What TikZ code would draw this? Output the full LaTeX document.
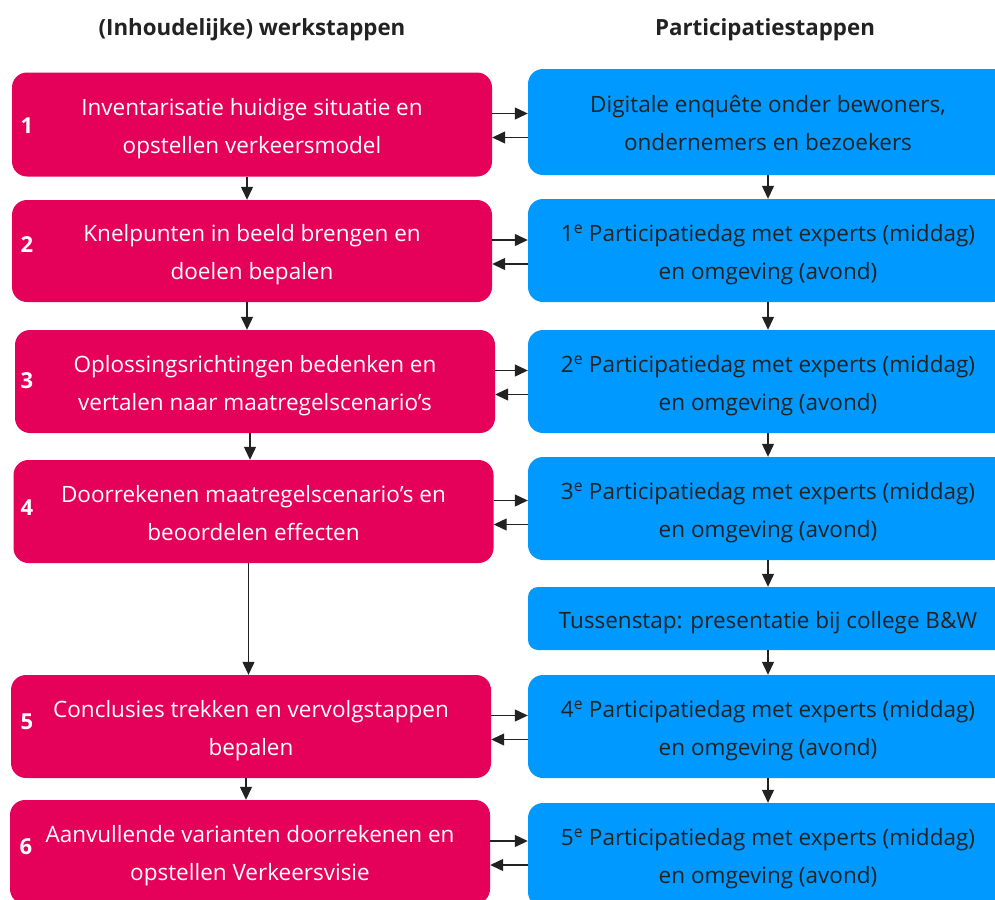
\documentclass[tikz,border=0pt]{standalone}
\usepackage{fontspec}
\setmainfont{Open Sans}
\usetikzlibrary{arrows.meta}
\definecolor{wred}{RGB}{229,0,90}
\definecolor{pblue}{RGB}{0,153,255}
\definecolor{ink}{RGB}{34,34,34}
\newcommand\bxtop{\rule{0pt}{26pt}}
\newcommand\bxbot{\rule[-7pt]{0pt}{0pt}}
\tikzset{
  basebox/.style={rectangle, rounded corners=15pt, minimum width=480pt, inner sep=0pt, align=center, font={\fontsize{22.5pt}{38pt}\selectfont}},
  redbox/.style={basebox, fill=wred, text=white, minimum height=104pt},
  bluebox/.style={basebox, fill=pblue, text=ink, minimum height=104pt},
  numlabel/.style={text=white, font={\fontsize{22pt}{26pt}\selectfont\bfseries}, inner sep=0pt},
  title/.style={text=ink, font={\fontsize{22.3pt}{26pt}\selectfont\bfseries}, inner sep=0pt},
  arr/.style={draw=ink, line width=1.2pt, -{Triangle[length=13pt,width=12pt]}},
}
\begin{document}
\begin{tikzpicture}[x=1pt,y=-1pt]
\clip (0,0) rectangle (995,899);
\fill[white] (0,0) rectangle (995,899);
% titles
\node[title] (t1) at (252,30) {(Inhoudelijke) werkstappen};
\node[title] (t2) at (765,30) {Participatiestappen};
% red boxes
\node[redbox] (r1) at (252,124.5) {\bxtop Inventarisatie huidige situatie en\\opstellen verkeersmodel\bxbot};
\node[redbox, minimum height=102pt] (r2) at (252,251) {\bxtop Knelpunten in beeld brengen en\\doelen bepalen\bxbot};
\node[redbox, minimum height=103pt] (r3) at (255,381.5) {\bxtop Oplossingsrichtingen bedenken en\\vertalen naar maatregelscenario’s\bxbot};
\node[redbox, minimum height=103pt] (r4) at (253.5,511.5) {\bxtop Doorrekenen maatregelscenario’s en\\beoordelen effecten\bxbot};
\node[redbox, minimum height=103pt] (r5) at (251,726.5) {\bxtop Conclusies trekken en vervolgstappen\\bepalen\bxbot};
\node[redbox, minimum height=104pt] (r6) at (250,852) {\bxtop Aanvullende varianten doorrekenen en\\opstellen Verkeersvisie\bxbot};
% numbers
\node[numlabel] (n1) at (27,126) {1};
\node[numlabel] (n2) at (27,245) {2};
\node[numlabel] (n3) at (27,381) {3};
\node[numlabel] (n4) at (27,508) {4};
\node[numlabel] (n5) at (27,722) {5};
\node[numlabel] (n6) at (26,847) {6};
% blue boxes
\node[bluebox, minimum height=106pt] (b1) at (768,122) {\bxtop Digitale enquête onder bewoners,\\ondernemers en bezoekers\bxbot};
\node[bluebox, minimum height=103pt] (b2) at (768,250.5) {\bxtop 1\textsuperscript{e} Participatiedag met experts (middag)\\en omgeving (avond)\bxbot};
\node[bluebox, minimum height=103pt] (b3) at (768,381.5) {\bxtop 2\textsuperscript{e} Participatiedag met experts (middag)\\en omgeving (avond)\bxbot};
\node[bluebox, minimum height=103pt] (b4) at (768,508.5) {\bxtop 3\textsuperscript{e} Participatiedag met experts (middag)\\en omgeving (avond)\bxbot};
\node[bluebox, minimum height=63pt, rounded corners=10pt] (bt) at (768,618.5) {\bxtop Tussenstap: presentatie bij college B\&W\bxbot};
\node[bluebox, minimum height=103pt] (b5) at (768,726.5) {\bxtop 4\textsuperscript{e} Participatiedag met experts (middag)\\en omgeving (avond)\bxbot};
\node[bluebox, minimum height=104pt] (b6) at (768,855) {\bxtop 5\textsuperscript{e} Participatiedag met experts (middag)\\en omgeving (avond)\bxbot};
% vertical arrows red
\foreach \a/\b in {r1/r2,r2/r3,r3/r4,r4/r5,r5/r6}{
  \draw[arr] ([xshift=-5pt]\a.south) -- ([xshift=-5pt]\a.south |- \b.north);
}
% vertical arrows blue
\foreach \a/\b in {b1/b2,b2/b3,b3/b4,b4/bt,bt/b5,b5/b6}{
  \draw[arr] (\a.south) -- (\a.south |- \b.north);
}
% horizontal arrows
\foreach \r/\b in {r1/b1,r2/b2,r3/b3,r4/b4,r5/b5,r6/b6}{
  \draw[arr] ([yshift=11pt]\r.east) -- ([yshift=11pt]\r.east -| \b.west);
  \draw[arr] ([yshift=-13pt]\r.east -| \b.west) -- ([yshift=-13pt]\r.east);
}
\end{tikzpicture}
\end{document}
